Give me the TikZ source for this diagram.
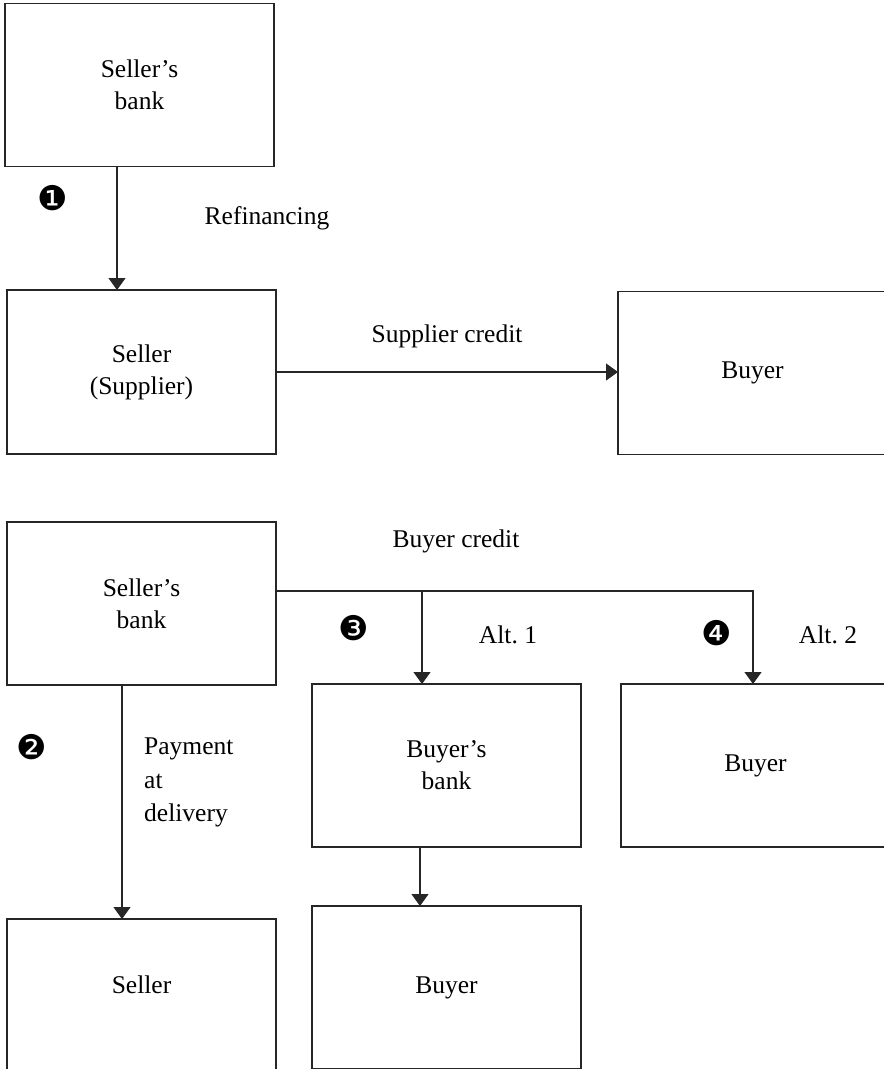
\documentclass[tikz,border=0pt]{standalone}
\usepackage{fontspec}
\setmainfont{Liberation Serif}
\newfontfamily\dingfont{DejaVu Sans}
\usetikzlibrary{arrows.meta,calc}
\frenchspacing
\begin{document}
\begin{tikzpicture}[x=1pt,y=-1pt,
  box/.style={draw=black!85, line width=1.2pt, minimum width=269pt, minimum height=163pt,
    inner sep=0pt, outer sep=0pt, align=center, font=\fontsize{25.5}{32}\selectfont},
  lbl/.style={inner sep=0pt, font=\fontsize{25.5}{33.5}\selectfont},
  num/.style={inner sep=0pt, font=\dingfont\fontsize{34}{34}\selectfont},
  conn/.style={draw=black!85, line width=1.2pt},
  arr/.style={conn, -{Triangle[width=17pt,length=12pt]}}]
\useasboundingbox (0,0) rectangle (884,1069);
\fill[white] (0,0) rectangle (884,1069);
\clip (0,0) rectangle (884,1069);

% boxes
\node[box] (sbank1) at (139.5,85) {Seller’s\\bank};
\node[box, minimum height=164pt] (seller1) at (141.5,372) {Seller\\(Supplier)};
\node[box] (buyer1) at (752.5,373) {Buyer};
\node[box] (sbank2) at (141.5,603.5) {Seller’s\\bank};
\node[box] (bbank) at (446.5,765.5) {Buyer’s\\bank};
\node[box] (buyer2) at (755.5,765.5) {Buyer};
\node[box, minimum height=166pt,
  label={[lbl, yshift=17pt]center:Seller}] (seller2) at (141.5,1002) {};
\node[box] (buyer3) at (446.5,987.5) {Buyer};

% junctions
\coordinate (j1) at (422,591);

% connectors
\draw[arr] ([xshift=-22.5pt]sbank1.south) -- ([xshift=-22.5pt]sbank1.south |- seller1.north);
\draw[arr] (seller1.east) -- (seller1.east -| buyer1.west);
\draw[arr] ([yshift=12.5pt]sbank2.east) -| ([xshift=-2.5pt]buyer2.north);
\draw[arr] (j1) -- (j1 |- bbank.north);
\draw[arr] ([xshift=-19.5pt]sbank2.south) -- ([xshift=-19.5pt]sbank2.south |- seller2.north);
\draw[arr] ([xshift=-26.5pt]bbank.south) -- ([xshift=-26.5pt]bbank.south |- buyer3.north);

% labels
\node[lbl, anchor=base] (refin) at (267,224) {Refinancing};
\node[lbl, anchor=base] (supcr) at (447,342) {Supplier credit};
\node[lbl, anchor=base] (buycr) at (456,547) {Buyer credit};
\node[lbl, anchor=base] (alt1) at (508,643) {Alt. 1};
\node[lbl, anchor=base] (alt2) at (828,643) {Alt. 2};
\node[lbl, align=left, anchor=north west] (pay) at (144,738) {Payment\\at\\delivery};

% numbers
\node[num] (n1) at (53,198) {❶};
\node[num] (n2) at (32,747) {❷};
\node[num] (n3) at (354,628) {❸};
\node[num] (n4) at (717,633) {❹};
\end{tikzpicture}
\end{document}
